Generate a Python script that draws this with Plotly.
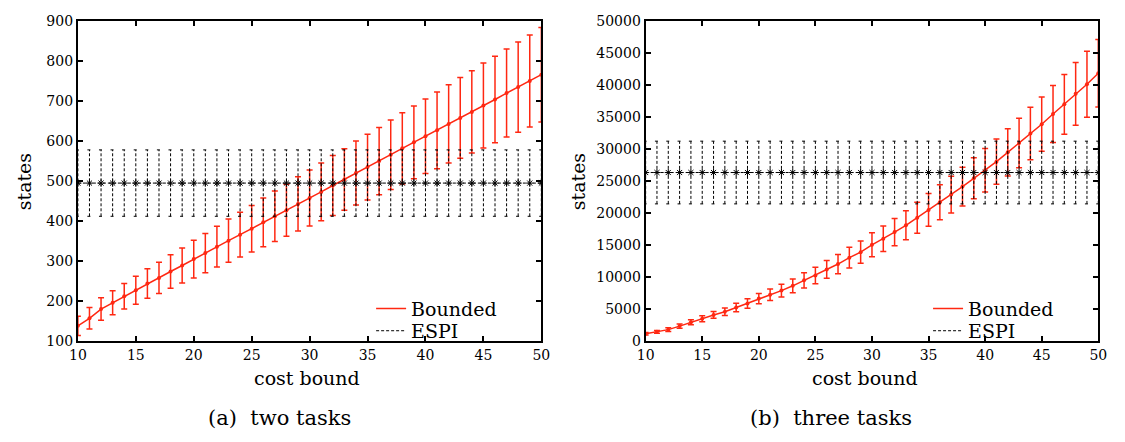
import plotly.graph_objects as go

# ---------------- data ----------------
cost_bound = [10, 11, 12, 13, 14, 15, 16, 17, 18, 19, 20, 21, 22, 23, 24, 25,
              26, 27, 28, 29, 30, 31, 32, 33, 34, 35, 36, 37, 38, 39, 40, 41,
              42, 43, 44, 45, 46, 47, 48, 49, 50]

two_bounded = [139, 158, 181, 197, 213, 228, 245, 259, 275, 290, 306, 321, 337,
               352, 367, 382, 398, 413, 428, 444, 459, 474, 490, 505, 521, 536,
               551, 567, 583, 598, 613, 628, 644, 659, 674, 690, 705, 721, 736,
               751, 767]
two_bounded_err = [24, 27, 28, 30, 32, 35, 37, 39, 42, 44, 47, 49, 51, 54, 56, 58,
                   61, 63, 65, 68, 70, 72, 75, 77, 80, 82, 84, 87, 89, 91, 93, 96,
                   98, 101, 103, 106, 108, 110, 113, 115, 118]
two_espi = [496] * 41
two_espi_err = [83] * 41

three_bounded = [1200, 1500, 1850, 2400, 3000, 3550, 4150, 4650, 5300, 5950,
                 6700, 7300, 7950, 8700, 9550, 10300, 11250, 12100, 13100, 13950,
                 15100, 16050, 17100, 18150, 19350, 20550, 21750, 22950, 24200,
                 25500, 26750, 28100, 29550, 31000, 32500, 33950, 35550, 37050,
                 38700, 40200, 41900]
three_bounded_err = [200, 230, 280, 330, 390, 450, 520, 580, 660, 740, 800, 900,
                     990, 1080, 1180, 1280, 1390, 1500, 1620, 1740, 1880, 2000,
                     2130, 2270, 2420, 2560, 2720, 2870, 3020, 3190, 3390, 3520,
                     3690, 3870, 4090, 4240, 4450, 4670, 4900, 5150, 5270]
three_espi = [26400] * 41
three_espi_err = [4900] * 41

x_ticks = [10, 15, 20, 25, 30, 35, 40, 45, 50]
y_ticks_two = [100, 200, 300, 400, 500, 600, 700, 800, 900]
y_ticks_three = [0, 5000, 10000, 15000, 20000, 25000, 30000, 35000, 40000, 45000, 50000]

# ---------------- styling ----------------
RED = "rgb(255,40,18)"
W, H = 1125, 442
SERIF = "DejaVu Serif"
TICKFONT = dict(family=SERIF, size=14, color="black")
TEXTFONT = dict(family=SERIF, size=19, color="black")
CAPFONT = dict(family=SERIF, size=21, color="black")


def px_x(p):
    return p / W


def px_y(p):
    return 1 - p / H


fig = go.Figure()


def add_panel(xa, ya, leg_b, leg_e, bounded, bounded_err, espi, espi_err):
    # Bounded: line for legend
    fig.add_trace(go.Scatter(x=cost_bound, y=bounded, mode="lines", name="Bounded",
                             line=dict(color=RED, width=1.5), xaxis=xa, yaxis=ya,
                             legend=leg_b, showlegend=True))
    # Bounded: points with error bars
    fig.add_trace(go.Scatter(x=cost_bound, y=bounded, mode="markers", showlegend=False,
                             marker=dict(color=RED, size=4),
                             error_y=dict(type="data", array=bounded_err, visible=True,
                                          color=RED, thickness=1.5, width=3),
                             xaxis=xa, yaxis=ya))
    # ESPI: dashed error bars built from data
    ex, ey = [], []
    cap = 0.18
    for xv, yv, ev in zip(cost_bound, espi, espi_err):
        ex += [xv, xv, None, xv - cap, xv + cap, None, xv - cap, xv + cap, None]
        ey += [yv - ev, yv + ev, None, yv - ev, yv - ev, None, yv + ev, yv + ev, None]
    fig.add_trace(go.Scatter(x=ex, y=ey, mode="lines", showlegend=False,
                             line=dict(color="black", width=1, dash="3px,2px"),
                             xaxis=xa, yaxis=ya, hoverinfo="skip"))
    # ESPI: dashed center line (legend)
    fig.add_trace(go.Scatter(x=cost_bound, y=espi, mode="lines", name="ESPI",
                             line=dict(color="black", width=1, dash="3px,2px"),
                             xaxis=xa, yaxis=ya, legend=leg_e, showlegend=True))
    # ESPI: star markers
    fig.add_trace(go.Scatter(x=cost_bound, y=espi, mode="markers", showlegend=False,
                             marker=dict(symbol="asterisk-open", size=6, color="black",
                                         line=dict(color="black", width=1)),
                             xaxis=xa, yaxis=ya))


add_panel("x", "y", "legend", "legend3", two_bounded, two_bounded_err, two_espi, two_espi_err)
add_panel("x2", "y2", "legend2", "legend4", three_bounded, three_bounded_err,
          three_espi, three_espi_err)

axis_common = dict(showline=True, linewidth=2, linecolor="black", mirror="allticks",
                   ticks="inside", ticklen=5, tickwidth=1.5, tickcolor="black",
                   showgrid=False, zeroline=False, tickfont=TICKFONT)

leg_common = dict(xanchor="left", yanchor="middle", bgcolor="rgba(0,0,0,0)",
                  font=TEXTFONT, itemwidth=30, borderwidth=0)

fig.update_layout(
    width=W, height=H,
    margin=dict(l=0, r=0, t=0, b=0),
    paper_bgcolor="white", plot_bgcolor="white",
    xaxis=dict(domain=[px_x(70), px_x(541)], range=[10, 50], tickvals=x_ticks,
               anchor="y", **axis_common),
    yaxis=dict(domain=[px_y(346), px_y(14)], range=[100, 900], tickvals=y_ticks_two,
               anchor="x", tickformat="d", ticksuffix="\u2009", **axis_common),
    xaxis2=dict(domain=[px_x(647), px_x(1107)], range=[10, 50], tickvals=x_ticks,
                anchor="y2", **axis_common),
    yaxis2=dict(domain=[px_y(346), px_y(14)], range=[0, 50000], tickvals=y_ticks_three,
                anchor="x2", tickformat="d", ticksuffix="\u2009", **axis_common),
    legend=dict(x=px_x(368), y=px_y(312), **leg_common),
    legend3=dict(x=px_x(368), y=px_y(335), **leg_common),
    legend2=dict(x=px_x(934), y=px_y(312), **leg_common),
    legend4=dict(x=px_x(934), y=px_y(335), **leg_common),
    showlegend=True,
)

annots = [
    dict(text="states", x=px_x(16), y=px_y(180), textangle=-90, font=TEXTFONT),
    dict(text="states", x=px_x(579), y=px_y(180), textangle=-90, font=TEXTFONT),
    dict(text="cost bound", x=px_x(303), y=px_y(384), font=TEXTFONT),
    dict(text="cost bound", x=px_x(870), y=px_y(384), font=TEXTFONT),
    dict(text="(a)\u00a0\u00a0two tasks", x=px_x(275), y=px_y(425), font=CAPFONT),
    dict(text="(b)\u00a0\u00a0three tasks", x=px_x(835), y=px_y(425), font=CAPFONT),
]
for a in annots:
    fig.add_annotation(xref="paper", yref="paper", showarrow=False,
                       xanchor="center", yanchor="middle", **a)

fig.write_html("out.html")
